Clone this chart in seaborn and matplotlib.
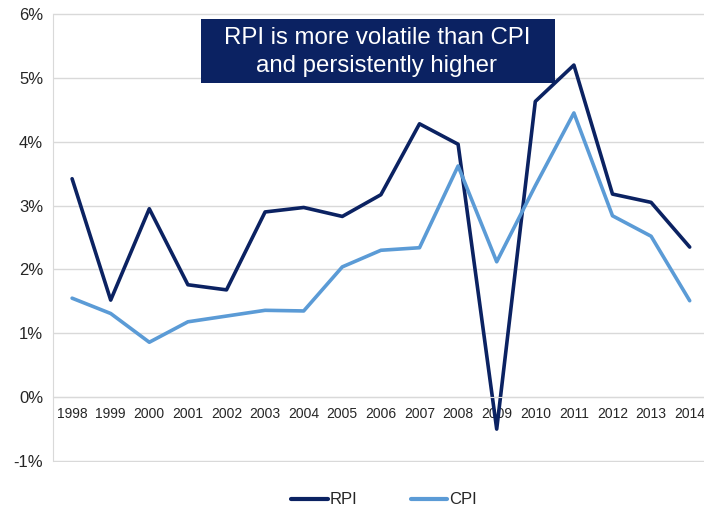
import matplotlib
matplotlib.use("Agg")
from matplotlib import pyplot as plt
from matplotlib.patches import Rectangle
import seaborn as sns
import numpy as np
import pandas as pd

years = ["1998", "1999", "2000", "2001", "2002", "2003", "2004", "2005", "2006",
         "2007", "2008", "2009", "2010", "2011", "2012", "2013", "2014"]
rpi = [3.42, 1.52, 2.95, 1.76, 1.68, 2.90, 2.97, 2.83, 3.17,
       4.28, 3.96, -0.50, 4.63, 5.20, 3.18, 3.05, 2.35]
cpi = [1.55, 1.31, 0.86, 1.18, 1.27, 1.36, 1.35, 2.04, 2.30,
       2.34, 3.62, 2.12, 3.31, 4.45, 2.84, 2.52, 1.51]
title_text = "RPI is more volatile than CPI\nand persistently higher"

navy = "#0B2262"
light = "#5B9BD6"
grid_col = "#D9D9D9"

pos = np.arange(len(years))
df = pd.DataFrame({
    "pos": np.concatenate([pos, pos]),
    "value": rpi + cpi,
    "series": ["RPI"] * len(years) + ["CPI"] * len(years),
})

sns.set_style("white")
plt.rcParams["font.family"] = ["Liberation Sans", "DejaVu Sans"]

fig = plt.figure(figsize=(7.04, 5.12), dpi=100)
ax = fig.add_axes([52.8 / 704, 1 - 462 / 512, (709 - 52.8) / 704, 449 / 512])

sns.lineplot(data=df, x="pos", y="value", hue="series",
             palette={"RPI": navy, "CPI": light}, linewidth=2.6,
             ax=ax, legend=False)

ax.set_xlim(-0.5, len(years) - 0.5)
ax.set_ylim(-1.015, 6.015)
ax.set_yticks(range(-1, 7))
ax.set_yticklabels([f"{v}%" for v in range(-1, 7)], fontsize=12, color="#262626")
ax.yaxis.grid(True, color=grid_col, linewidth=1)
ax.set_axisbelow(True)

ax.set_xticks(pos)
ax.set_xticklabels(years, fontsize=9.5, color="#404040")
ax.set_xticks(np.arange(-0.5, len(years) + 0.5, 1), minor=True)
ax.tick_params(axis="x", which="major", length=0, pad=7)
ax.tick_params(axis="x", which="minor", length=4, color=grid_col, width=1)
ax.tick_params(axis="y", length=4, color=grid_col, width=1, pad=3)
ax.set_xlabel("")
ax.set_ylabel("")

ax.spines["bottom"].set_position(("data", 0))
ax.spines["bottom"].set_color(grid_col)
ax.spines["left"].set_color(grid_col)
ax.spines["left"].set_bounds(-1, 6)
ax.spines["top"].set_visible(False)
ax.spines["right"].set_visible(False)

# title box
fig.patches.append(Rectangle((200.7 / 704, 1 - 83 / 512), 354 / 704, 64 / 512,
                             transform=fig.transFigure, facecolor=navy,
                             edgecolor="none", zorder=5))
fig.text(377 / 704, 1 - 52 / 512, title_text, ha="center", va="center",
         color="white", fontsize=17.3, linespacing=1.3, zorder=6)

handles = [plt.Line2D([], [], color=navy, linewidth=3),
           plt.Line2D([], [], color=light, linewidth=3)]
fig.legend(handles, ["RPI", "CPI"], loc="center", bbox_to_anchor=(384 / 704, 1 - 500 / 512),
           ncol=2, frameon=False, fontsize=12, handlelength=2.2, handletextpad=0.1,
           columnspacing=3.2)

fig.savefig("out.png", dpi=100)
